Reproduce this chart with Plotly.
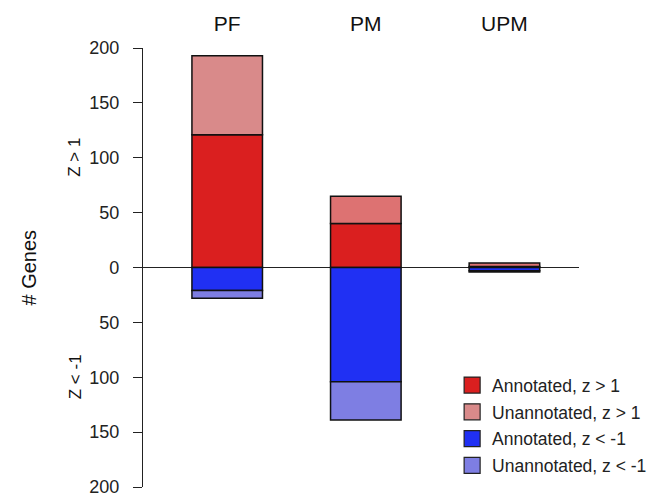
import plotly.graph_objects as go

categories = ["PF", "PM", "UPM"]
annot_up = [121, 40, 1]
unannot_up = [72, 25, 3]
annot_down = [21, 104, 3]
unannot_down = [7, 35, 1]

tick_vals = [-200, -150, -100, -50, 0, 50, 100, 150, 200]
tick_text = ["200", "150", "100", "50", "0", "50", "100", "150", "200"]

series_names = ["Annotated, z > 1", "Unannotated, z > 1", "Annotated, z < -1", "Unannotated, z < -1"]
legend_colors = ["#DA1F1F", "#D98A8A", "#2030F3", "#7E7EE3"]

FONT = "Liberation Sans, Arial, Helvetica, sans-serif"
line = dict(color="#111111", width=1.5)

fig = go.Figure()
fig.add_trace(go.Bar(x=categories, y=annot_up, name=series_names[0],
                     marker=dict(color="#DA1F1F", line=line), showlegend=False))
fig.add_trace(go.Bar(x=categories, y=unannot_up, name=series_names[1],
                     marker=dict(color=["#D98A8A", "#DD7272", "#DD7272"], line=line),
                     showlegend=False))
fig.add_trace(go.Bar(x=categories, y=[-v for v in annot_down], name=series_names[2],
                     marker=dict(color="#2030F3", line=line), showlegend=False))
fig.add_trace(go.Bar(x=categories, y=[-v for v in unannot_down], name=series_names[3],
                     marker=dict(color="#7E7EE3", line=line), showlegend=False))

# legend entries with larger square keys
for i, (nm, col) in enumerate(zip(series_names, legend_colors)):
    fig.add_trace(go.Scatter(x=[None], y=[None], mode="markers", name=nm,
                             legendgroup=str(i),
                             marker=dict(symbol="square", size=18, color=col,
                                         line=dict(color="#222222", width=1.2))))

# page body has an 8px default margin, so the figure is sized/offset to compensate
fig.update_layout(
    width=662, height=485,
    margin=dict(l=135, r=91, t=40, b=6, autoexpand=False),
    plot_bgcolor="white", paper_bgcolor="white",
    barmode="relative", bargap=0.491,
    font=dict(family=FONT, color="#222222"),
    showlegend=True,
    legend=dict(x=0.709, xanchor="left", y=0.273, yanchor="top",
                font=dict(size=17.5, color="#222222"), tracegroupgap=1,
                itemsizing="trace",
                bgcolor="rgba(0,0,0,0)", borderwidth=0),
    xaxis=dict(side="top", range=[-0.6075, 2.538], showline=False, ticks="",
               showgrid=False, zeroline=False, tickfont=dict(size=21, color="#111111"),
               ticklabelstandoff=12),
    yaxis=dict(range=[-200, 200], tickvals=tick_vals, ticktext=tick_text,
               showline=True, linecolor="#222222", linewidth=1.2,
               ticks="outside", ticklen=9, tickwidth=1.2, tickcolor="#222222",
               tickfont=dict(size=18, color="#222222"), ticklabelstandoff=10,
               ticklabeloverflow="allow",
               showgrid=False, zeroline=True, zerolinecolor="#222222", zerolinewidth=1.2),
    annotations=[
        dict(text="# Genes", xref="paper", yref="y", x=0, y=0, xshift=-115,
             xanchor="center", yanchor="middle",
             textangle=-90, showarrow=False, font=dict(size=20, color="#111111")),
        dict(text="Z > 1", xref="paper", yref="y", x=0, y=100, xshift=-68,
             xanchor="center", yanchor="middle",
             textangle=-90, showarrow=False, font=dict(size=17, color="#111111")),
        dict(text="Z < -1", xref="paper", yref="y", x=0, y=-100, xshift=-68,
             xanchor="center", yanchor="middle",
             textangle=-90, showarrow=False, font=dict(size=17, color="#111111")),
    ],
)

fig.write_html("out.html")
